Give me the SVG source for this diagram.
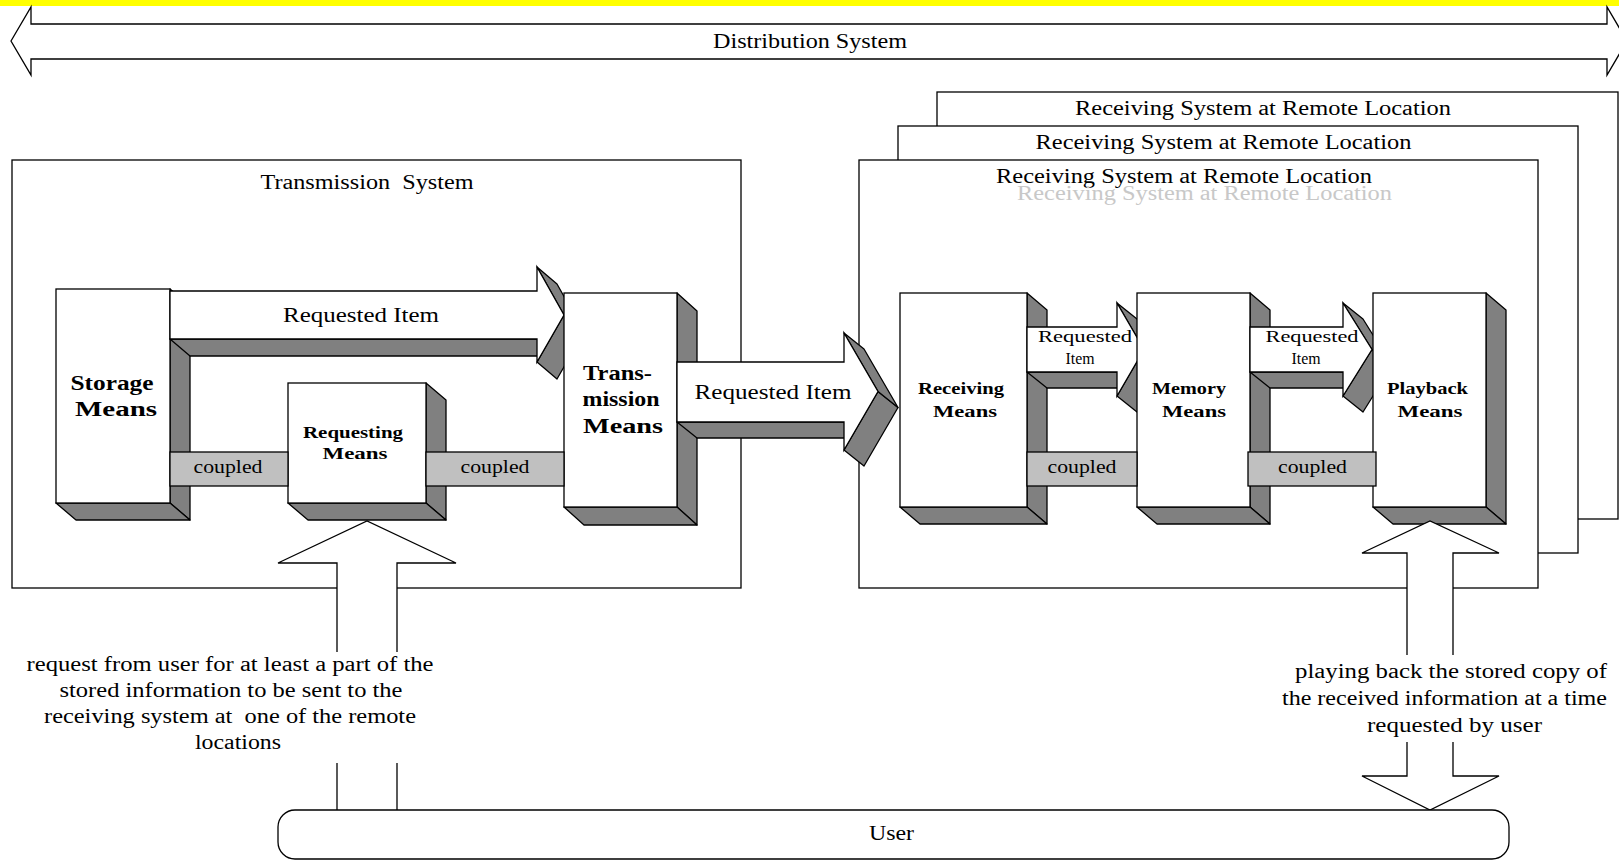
<svg xmlns="http://www.w3.org/2000/svg" width="1619" height="860" viewBox="0 0 1619 860">
<style>
.ln{stroke:#000;stroke-width:1.3;fill:none}
.face{fill:#fff;stroke:#000;stroke-width:1.3;stroke-linejoin:miter}
.wf{fill:#fff;stroke:none}
.sh{fill:#808080;stroke:#000;stroke-width:1.3;stroke-linejoin:round}
.bar{fill:#c0c0c0;stroke:#000;stroke-width:1.3}
.t{font-family:"Liberation Serif","Times New Roman",serif;fill:#000;text-anchor:middle;font-size:20px}
.b{font-weight:bold}
.s17{font-size:17px}
.s18{font-size:18px}
.s16{font-size:16px}
.ghost{fill:#c8c8c8}
</style>
<rect x="0" y="0" width="1619" height="860" fill="#fff"/>
<rect x="0" y="0" width="1619" height="6" fill="#ffff00"/>

<g id="distribution-system">
<polygon class="face" points="11,41 31,7 31,24 1607,24 1607,7 1627,41 1607,75 1607,59 31,59 31,75"/>
<text class="t" x="810" y="48" textLength="194" lengthAdjust="spacingAndGlyphs">Distribution System</text>
</g>

<g id="transmission-system">
<rect class="face" x="12" y="160" width="729" height="428"/>
<text class="t" x="367" y="189" textLength="213" lengthAdjust="spacingAndGlyphs" style="white-space:pre">Transmission  System</text>
</g>

<g id="receiving-system-3">
<rect class="face" x="937" y="92" width="681" height="427"/>
<text class="t" x="1263" y="115" textLength="376" lengthAdjust="spacingAndGlyphs">Receiving System at Remote Location</text>
</g>
<g id="receiving-system-2">
<rect class="face" x="898" y="126" width="680" height="427"/>
<text class="t" x="1223.5" y="149" textLength="376" lengthAdjust="spacingAndGlyphs">Receiving System at Remote Location</text>
</g>
<g id="receiving-system-1">
<rect class="face" x="859" y="160" width="679" height="428"/>
<text class="t" x="1184" y="183" textLength="376" lengthAdjust="spacingAndGlyphs">Receiving System at Remote Location</text>
<text class="t ghost" x="1204.5" y="200" textLength="375" lengthAdjust="spacingAndGlyphs">Receiving System at Remote Location</text>
</g>

<g id="storage-means">
<polygon class="sh" points="170,289 190,306 190,520 170,503"/>
<polygon class="sh" points="56,503 170,503 190,520 76,520"/>
<rect class="face" x="56" y="289" width="114" height="214"/>
<text class="t b" x="112" y="390" font-size="21" textLength="83" lengthAdjust="spacingAndGlyphs">Storage</text>
<text class="t b" x="116" y="416" font-size="21" textLength="82" lengthAdjust="spacingAndGlyphs">Means</text>
</g>

<g id="requesting-means">
<polygon class="sh" points="426,383 446,400 446,520 426,503"/>
<polygon class="sh" points="288,503 426,503 446,520 308,520"/>
<rect class="face" x="288" y="383" width="138" height="120"/>
<text class="t b s17" x="353" y="438" textLength="100" lengthAdjust="spacingAndGlyphs">Requesting</text>
<text class="t b s17" x="355" y="459" textLength="65" lengthAdjust="spacingAndGlyphs">Means</text>
</g>

<g id="connectors">
<g id="arrow-storage-transmission">
<polygon class="sh" points="170,339 537,339 557,356 190,356"/>
<polygon class="sh" points="564,315 537,362 557,379 584,332"/>
<polygon class="sh" points="537,267 564,315 584,332 557,284"/>
<polygon class="face" points="170,291 537,291 537,267 564,315 537,362 537,339 170,339"/>
<text class="t" x="361" y="322" textLength="156" lengthAdjust="spacingAndGlyphs">Requested Item</text>
</g>
</g>

<g id="transmission-means">
<polygon class="sh" points="677,293 697,311 697,525 677,507"/>
<polygon class="sh" points="564,507 677,507 697,525 584,525"/>
<rect class="face" x="564" y="293" width="113" height="214"/>
<text class="t b" x="617.5" y="380" font-size="21" textLength="69" lengthAdjust="spacingAndGlyphs">Trans-</text>
<text class="t b" x="621" y="406" font-size="21" textLength="77" lengthAdjust="spacingAndGlyphs">mission</text>
<text class="t b" x="623" y="433" font-size="21" textLength="80" lengthAdjust="spacingAndGlyphs">Means</text>
</g>

<g id="receiving-means">
<polygon class="sh" points="1027,293 1047,310 1047,524 1027,507"/>
<polygon class="sh" points="900,507 1027,507 1047,524 920,524"/>
<rect class="face" x="900" y="293" width="127" height="214"/>
<text class="t b s17" x="961" y="394" textLength="86" lengthAdjust="spacingAndGlyphs">Receiving</text>
<text class="t b s17" x="965" y="417" textLength="64" lengthAdjust="spacingAndGlyphs">Means</text>
</g>

<g id="connectors-2">
<g id="arrow-receiving-memory">
<polygon class="sh" points="1027,372 1117,372 1137,388 1047,388"/>
<polygon class="sh" points="1144,349.5 1117,396 1137,412 1164,365.5"/>
<polygon class="sh" points="1117,303 1144,349.5 1164,365.5 1137,319"/>
<polygon class="face" points="1027,327 1117,327 1117,303 1144,349.5 1117,396 1117,372 1027,372"/>
<text class="t s16" x="1085" y="342" textLength="94" lengthAdjust="spacingAndGlyphs">Requested</text>
<text class="t s16" x="1080" y="364" textLength="29" lengthAdjust="spacingAndGlyphs">Item</text>
</g>
</g>

<g id="memory-means">
<polygon class="sh" points="1250,293 1270,310 1270,524 1250,507"/>
<polygon class="sh" points="1137,507 1250,507 1270,524 1157,524"/>
<rect class="face" x="1137" y="293" width="113" height="214"/>
<text class="t b s17" x="1189" y="394" textLength="74" lengthAdjust="spacingAndGlyphs">Memory</text>
<text class="t b s17" x="1194" y="417" textLength="64" lengthAdjust="spacingAndGlyphs">Means</text>
</g>

<g id="connectors-3">
<g id="arrow-memory-playback">
<polygon class="sh" points="1250,372 1343,372 1363,388 1270,388"/>
<polygon class="sh" points="1372,349.5 1343,396 1363,412 1392,365.5"/>
<polygon class="sh" points="1343,303 1372,349.5 1392,365.5 1363,319"/>
<polygon class="face" points="1250,327 1343,327 1343,303 1372,349.5 1343,396 1343,372 1250,372"/>
<text class="t s16" x="1312" y="342" textLength="93" lengthAdjust="spacingAndGlyphs">Requested</text>
<text class="t s16" x="1306" y="364" textLength="29" lengthAdjust="spacingAndGlyphs">Item</text>
</g>
</g>

<g id="playback-means">
<polygon class="sh" points="1486,293 1506,310 1506,524 1486,507"/>
<polygon class="sh" points="1373,507 1486,507 1506,524 1393,524"/>
<rect class="face" x="1373" y="293" width="113" height="214"/>
<text class="t b s17" x="1427.5" y="394" textLength="81" lengthAdjust="spacingAndGlyphs">Playback</text>
<text class="t b s17" x="1430" y="417" textLength="65" lengthAdjust="spacingAndGlyphs">Means</text>
</g>

<g id="connectors-4">
<g id="arrow-transmission-receiving">
<polygon class="sh" points="677,422 844,422 864,438 697,438"/>
<polygon class="sh" points="878,391.5 844,450 864,466 898,407.5"/>
<polygon class="sh" points="844,333 878,391.5 898,407.5 864,349"/>
<polygon class="face" points="677,362 844,362 844,333 878,391.5 844,450 844,422 677,422"/>
<text class="t" x="773" y="399" textLength="157" lengthAdjust="spacingAndGlyphs">Requested Item</text>
</g>
<g id="coupled-1">
<rect class="bar" x="170" y="452" width="118" height="34"/>
<text class="t s18" x="228" y="473" textLength="69" lengthAdjust="spacingAndGlyphs">coupled</text>
</g>
<g id="coupled-2">
<rect class="bar" x="426" y="452" width="138" height="34"/>
<text class="t s18" x="495" y="473" textLength="69" lengthAdjust="spacingAndGlyphs">coupled</text>
</g>
<g id="coupled-3">
<rect class="bar" x="1027" y="452" width="110" height="34"/>
<text class="t s18" x="1082" y="473" textLength="69" lengthAdjust="spacingAndGlyphs">coupled</text>
</g>
<g id="coupled-4">
<rect class="bar" x="1248" y="452" width="128" height="34"/>
<text class="t s18" x="1312.5" y="473" textLength="69" lengthAdjust="spacingAndGlyphs">coupled</text>
</g>
<g id="arrow-request">
<polygon class="wf" points="367,521 456,563 397,563 397,810 337,810 337,563 278,563"/>
<polyline class="ln" points="337,652 337,563 278,563 367,521 456,563 397,563 397,652"/>
<line class="ln" x1="337" y1="763" x2="337" y2="810"/>
<line class="ln" x1="397" y1="763" x2="397" y2="810"/>
<rect class="wf" x="20" y="653" width="420" height="108"/>
<text class="t" x="230" y="671" textLength="407" lengthAdjust="spacingAndGlyphs">request from user for at least a part of the</text>
<text class="t" x="231" y="697" textLength="343" lengthAdjust="spacingAndGlyphs">stored information to be sent to the</text>
<text class="t" x="230" y="723" textLength="372" lengthAdjust="spacingAndGlyphs" style="white-space:pre">receiving system at  one of the remote</text>
<text class="t" x="238" y="749" textLength="86" lengthAdjust="spacingAndGlyphs">locations</text>
</g>
<g id="arrow-playback">
<polygon class="wf" points="1430,521 1499,553 1453,553 1453,776 1499,776 1430,810 1362,776 1407,776 1407,553 1362,553"/>
<polyline class="ln" points="1407,655 1407,553 1362,553 1430,521 1499,553 1453,553 1453,655"/>
<polyline class="ln" points="1407,742 1407,776 1362,776 1430,810 1499,776 1453,776 1453,742"/>
<rect class="wf" x="1280" y="656" width="335" height="85"/>
<text class="t" x="1451" y="678" textLength="312" lengthAdjust="spacingAndGlyphs">playing back the stored copy of</text>
<text class="t" x="1444.5" y="705" textLength="325" lengthAdjust="spacingAndGlyphs">the received information at a time</text>
<text class="t" x="1454.5" y="732" textLength="175" lengthAdjust="spacingAndGlyphs">requested by user</text>
</g>
</g>

<g id="user">
<rect class="face" x="278" y="810" width="1231" height="49" rx="17" ry="17"/>
<text class="t" x="891.5" y="840" textLength="45" lengthAdjust="spacingAndGlyphs">User</text>
</g>
</svg>
